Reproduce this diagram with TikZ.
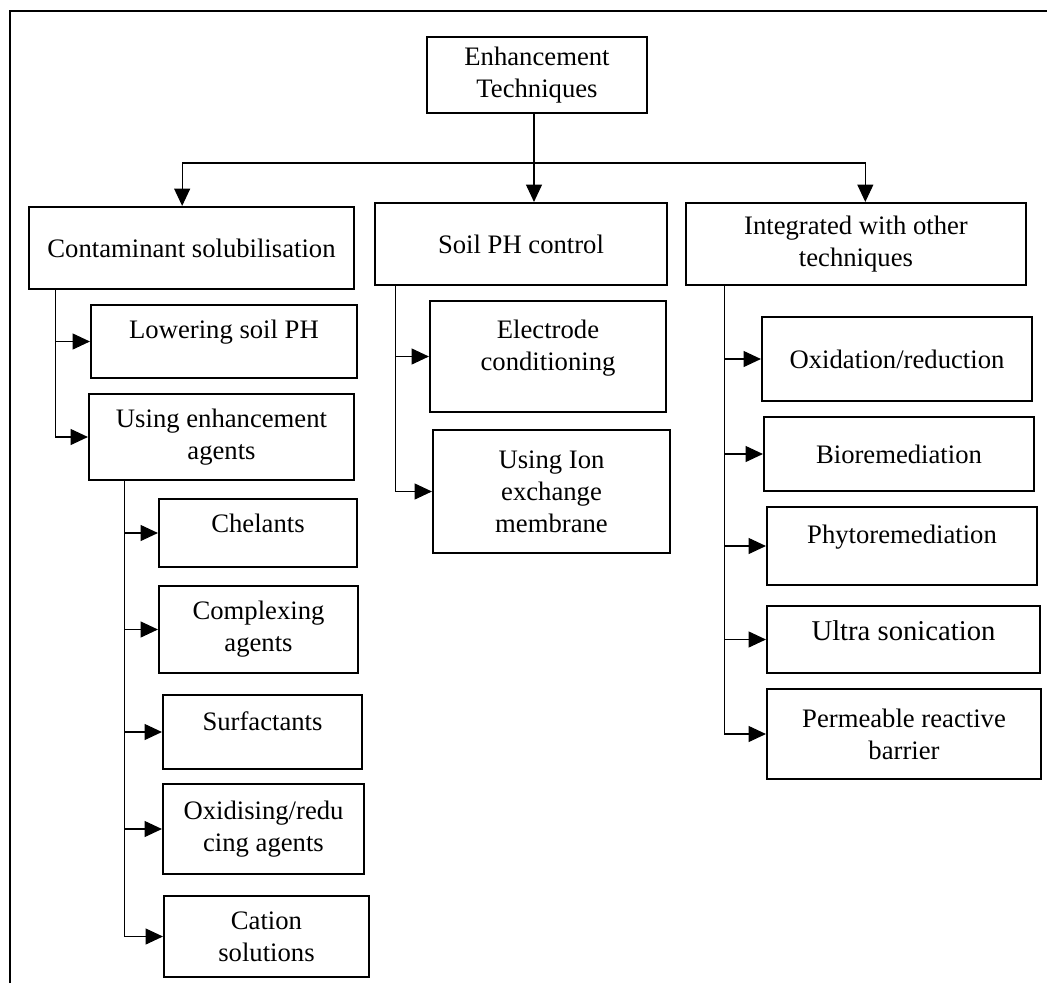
\documentclass[tikz,border=0pt]{standalone}
\usepackage{fontspec}
\setmainfont{Liberation Serif}
\usetikzlibrary{arrows.meta}

\begin{document}
\begin{tikzpicture}[x=0.75pt, y=-0.75pt,
	box/.style={shape=rectangle, draw=black, line width=1.6pt, align=center, inner sep=0pt, font=\fontsize{20}{24}\selectfont},
	raised/.style={text depth=#1},
	link/.style={line width=0.8pt},
	arr/.style={link, -{Triangle[length=13pt, width=12pt]}}]
	\useasboundingbox (0,0) rectangle (1047,983);
	\draw [line width=1.5pt] (10,983) -- (10,11) -- (1047,11);
	% top level
	\node at (537,75) [box, minimum width=165pt, minimum height=57pt] (root) {Enhancement\\Techniques};
	\node at (191.5,248) [box, minimum width=243.75pt, minimum height=61.5pt] (cont) {Contaminant solubilisation};
	\node at (521,244) [box, minimum width=219pt, minimum height=61.5pt] (soil) {Soil PH control};
	\node at (856,244) [box, minimum width=255pt, minimum height=61.5pt] (integ) {Integrated with other\\techniques};
	% contaminant solubilisation
	\node at (224,341.5) [box, raised=19pt, minimum width=199.5pt, minimum height=54.75pt] (lower) {Lowering soil PH};
	\node at (221.5,437) [box, minimum width=198.75pt, minimum height=64.5pt] (usingag) {Using enhancement\\agents};
	\node at (258,533) [box, raised=14pt, minimum width=148.5pt, minimum height=51pt] (chel) {Chelants};
	\node at (258.5,629.5) [box, minimum width=149.25pt, minimum height=65.25pt] (compl) {Complexing\\agents};
	\node at (262.5,732) [box, raised=17pt, minimum width=149.25pt, minimum height=55.5pt] (surf) {Surfactants};
	\node at (263.5,829) [box, minimum width=150.75pt, minimum height=67.5pt] (oxid) {Oxidising/redu\\cing agents};
	\node at (266.5,936.5) [box, minimum width=153.75pt, minimum height=60.75pt] (cation) {Cation\\solutions};
	% soil PH control
	\node at (548,356.5) [box, raised=17pt, minimum width=177pt, minimum height=83.25pt] (electr) {Electrode\\conditioning};
	\node at (551.5,491.5) [box, minimum width=177.75pt, minimum height=92.25pt] (ion) {Using Ion\\exchange\\membrane};
	% integrated with other techniques
	\node at (897,359) [box, minimum width=202.5pt, minimum height=63pt] (oxred) {Oxidation/reduction};
	\node at (899,454) [box, minimum width=202.5pt, minimum height=55.5pt] (bio) {Bioremediation};
	\node at (902,546) [box, raised=17pt, minimum width=202.5pt, minimum height=58.5pt] (phyto) {Phytoremediation};
	\node at (903.5,639.5) [box, raised=14pt, minimum width=204.75pt, minimum height=50.25pt, font=\fontsize{21.5}{25}\selectfont] (ultra) {Ultra sonication};
	\node at (904,734) [box, minimum width=205.5pt, minimum height=67.5pt] (perm) {Permeable reactive\\barrier};
	% connectors
	\coordinate (fork) at (534,163);
	\draw [link] (root.south -| fork) -- (fork);
	\draw [arr] (fork) -| ([xshift=-7pt]cont.north);
	\draw [arr] (fork) -- (fork |- soil.north);
	\draw [arr] (fork) -| ([xshift=7pt]integ.north);
	\draw [arr] ([xshift=21pt]cont.south west) |- (lower.west);
	\draw [arr] ([xshift=21pt]cont.south west) |- (usingag.west);
	\draw [arr] ([xshift=27.75pt]usingag.south west) |- (chel.west);
	\draw [arr] ([xshift=27.75pt]usingag.south west) |- (compl.west);
	\draw [arr] ([xshift=27.75pt]usingag.south west) |- (surf.west);
	\draw [arr] ([xshift=27.75pt]usingag.south west) |- (oxid.west);
	\draw [arr] ([xshift=27.75pt]usingag.south west) |- (cation.west);
	\draw [arr] ([xshift=16.5pt]soil.south west) |- (electr.west);
	\draw [arr] ([xshift=16.5pt]soil.south west) |- (ion.west);
	\draw [arr] ([xshift=30pt]integ.south west) |- (oxred.west);
	\draw [arr] ([xshift=30pt]integ.south west) |- (bio.west);
	\draw [arr] ([xshift=30pt]integ.south west) |- (phyto.west);
	\draw [arr] ([xshift=30pt]integ.south west) |- (ultra.west);
	\draw [arr] ([xshift=30pt]integ.south west) |- (perm.west);
\end{tikzpicture}
\end{document}
